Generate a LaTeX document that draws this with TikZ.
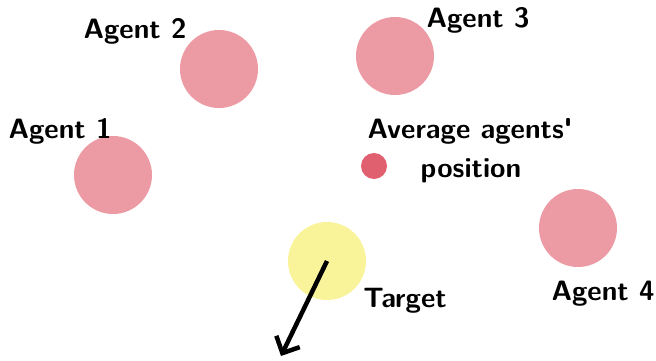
\documentclass[tikz,border=0pt]{standalone}
\usetikzlibrary{arrows.meta}
\definecolor{agentpink}{HTML}{EC9AA3}
\definecolor{avgred}{HTML}{E0606F}
\definecolor{targetyellow}{HTML}{F9F39A}
\begin{document}
\begin{tikzpicture}[x=1pt,y=-1pt,
  agent/.style={circle,fill=agentpink,minimum size=78pt,inner sep=0pt},
  target/.style={circle,fill=targetyellow,minimum size=78pt,inner sep=0pt},
  avgdot/.style={circle,fill=avgred,minimum size=26pt,inner sep=0pt},
  lbl/.style={font=\fontsize{28}{32}\selectfont\sffamily\bfseries,inner sep=0pt,align=center}]
\useasboundingbox (0,0) rectangle (656,360);
\node[agent] (a1) at (113,175) {};
\node[agent] (a2) at (219,69) {};
\node[agent] (a3) at (395,56) {};
\node[agent] (a4) at (578,228) {};
\node[target] (t) at (327,261) {};
\node[avgdot] (avg) at (374,166) {};
\coordinate (tend) at (281,356);
\draw[line width=4.5pt,-{Straight Barb[length=13pt,width=26pt,line width=4.5pt]}] (t.center) -- (tend);
\node[lbl] (l1) at (60,131) {Agent 1};
\node[lbl] (l2) at (135,31) {Agent 2};
\node[lbl] (l3) at (478,20) {Agent 3};
\node[lbl] (l4) at (603,294) {Agent 4};
\node[lbl] (lt) at (405,301) {Target};
\node[lbl] (la) at (470,131) {Average agents\textquotesingle};
\node[lbl] (lp) at (471,171) {position};
\end{tikzpicture}
\end{document}
